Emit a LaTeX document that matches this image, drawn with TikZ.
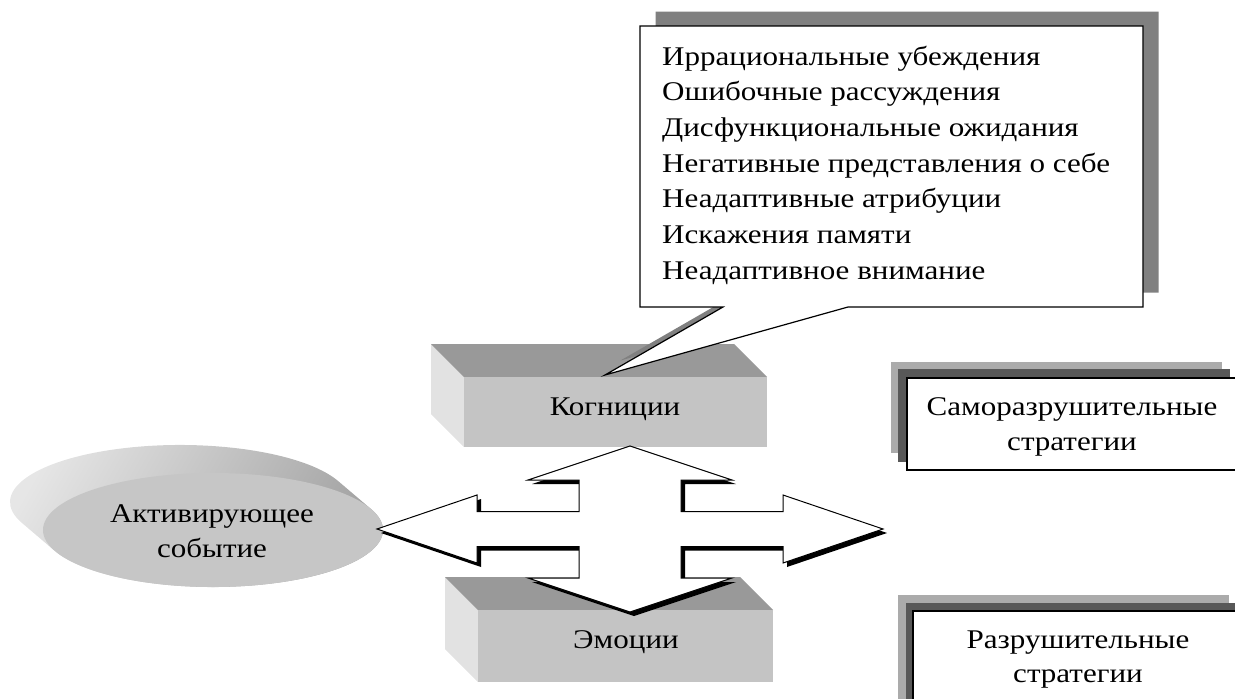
\documentclass[tikz,border=0pt]{standalone}
\usepackage{fontspec}
\setmainfont[FakeStretch=1.15]{Liberation Serif}
\definecolor{blocktop}{HTML}{999999}
\definecolor{blockfront}{HTML}{C4C4C4}
\definecolor{blockside}{HTML}{E2E2E2}
\definecolor{calloutshadow}{HTML}{808080}
\definecolor{shadowlight}{HTML}{ABABAB}
\definecolor{shadowdark}{HTML}{585858}
\definecolor{eventfront}{HTML}{C6C6C6}
\definecolor{eventsidelight}{HTML}{E6E6E6}
\definecolor{eventsidedark}{HTML}{9E9E9E}
\begin{document}
\begin{tikzpicture}[x=1pt,y=-1pt,line join=miter]
\useasboundingbox (0,0) rectangle (1235,699);
\tikzset{
  txt/.style={font=\fontsize{27}{31}\selectfont, inner sep=0pt},
  lbl/.style={txt, anchor=base},
  listline/.style={txt, anchor=base west},
  outline/.style={draw=black, line width=1.2pt},
  crossarrow/.pic={
    \path[pic actions] (0,-83) -- (102,-49) -- (51,-49) -- (51,-17.5) -- (153,-17.5)
      -- (153,-34) -- (253,0) -- (153,34) -- (153,17.5) -- (51,17.5) -- (51,49)
      -- (102,49) -- (0,83) -- (-102,49) -- (-51,49) -- (-51,17.5) -- (-153,17.5)
      -- (-153,34) -- (-253,0) -- (-153,-34) -- (-153,-17.5) -- (-51,-17.5)
      -- (-51,-49) -- (-102,-49) -- cycle;
  }
}

% --- block "Когниции" (front face 464..767 x 377..447, depth 33)
\fill[blockside] (431,344) -- (464,377) -- (464,447) -- (431,414) -- cycle;
\fill[blocktop] (431,344) -- (734,344) -- (767,377) -- (464,377) -- cycle;
\fill[blockfront] (464,377) rectangle (767,447);
\node[lbl] (cog) at (615,415) {Когниции};

% --- block "Эмоции"
\fill[blockside] (445,577) -- (478,610) -- (478,682) -- (445,649) -- cycle;
\fill[blocktop] (445,577) -- (740,577) -- (773,610) -- (478,610) -- cycle;
\fill[blockfront] (478,610) rectangle (773,682);
\node[lbl] (emo) at (626,648) {Эмоции};

% --- extruded ellipse "Активирующее событие"
\shade[left color=eventsidelight, right color=eventsidedark, shading angle=60]
  (338.1,481) arc[start angle=-21.6, end angle=-201.6, x radius=170, y radius=57]
  -- (54.9,551) arc[start angle=158.4, end angle=-21.6, x radius=170, y radius=57]
  -- cycle;
\fill[eventfront] (213,530) ellipse[x radius=170, y radius=57];
\node[lbl] (ev1) at (212,522) {Активирующее};
\node[lbl] (ev2) at (212,557) {событие};

% --- four-way arrow with its shadow
\pic[fill=black] at (634,533) {crossarrow};
\pic[fill=white, draw=black, line width=1pt] at (630,529) {crossarrow};

% --- callout with the list of cognitions
\fill[calloutshadow, shift={(15.5,-14.5)}]
  (640,26) -- (1143,26) -- (1143,307) -- (848,307) -- (605,375) -- (723,307) -- (640,307) -- cycle;
\filldraw[fill=white, outline]
  (640,26) -- (1143,26) -- (1143,307) -- (848,307) -- (605,375) -- (723,307) -- (640,307) -- cycle;
\foreach \t [count=\i from 0] in {Иррациональные убеждения, Ошибочные рассуждения,
  Дисфункциональные ожидания, Негативные представления о себе,
  Неадаптивные атрибуции, Искажения памяти, Неадаптивное внимание}
  \node[listline] (c\i) at (662,65+35.7*\i) {\t};

% --- strategy boxes with double shadows
\fill[shadowlight] (891,362) rectangle (1222,453);
\fill[shadowdark] (898,369) rectangle (1230,462);
\filldraw[fill=white, outline] (907,378) rectangle (1240,470);
\node[lbl] (s1a) at (1072,415) {Саморазрушительные};
\node[lbl] (s1b) at (1072,450) {стратегии};

\fill[shadowlight] (898,595) rectangle (1229,710);
\fill[shadowdark] (906,603) rectangle (1237,710);
\filldraw[fill=white, outline] (913,611) rectangle (1246,712);
\node[lbl] (s2a) at (1078,648) {Разрушительные};
\node[lbl] (s2b) at (1078,682) {стратегии};
\end{tikzpicture}
\end{document}
